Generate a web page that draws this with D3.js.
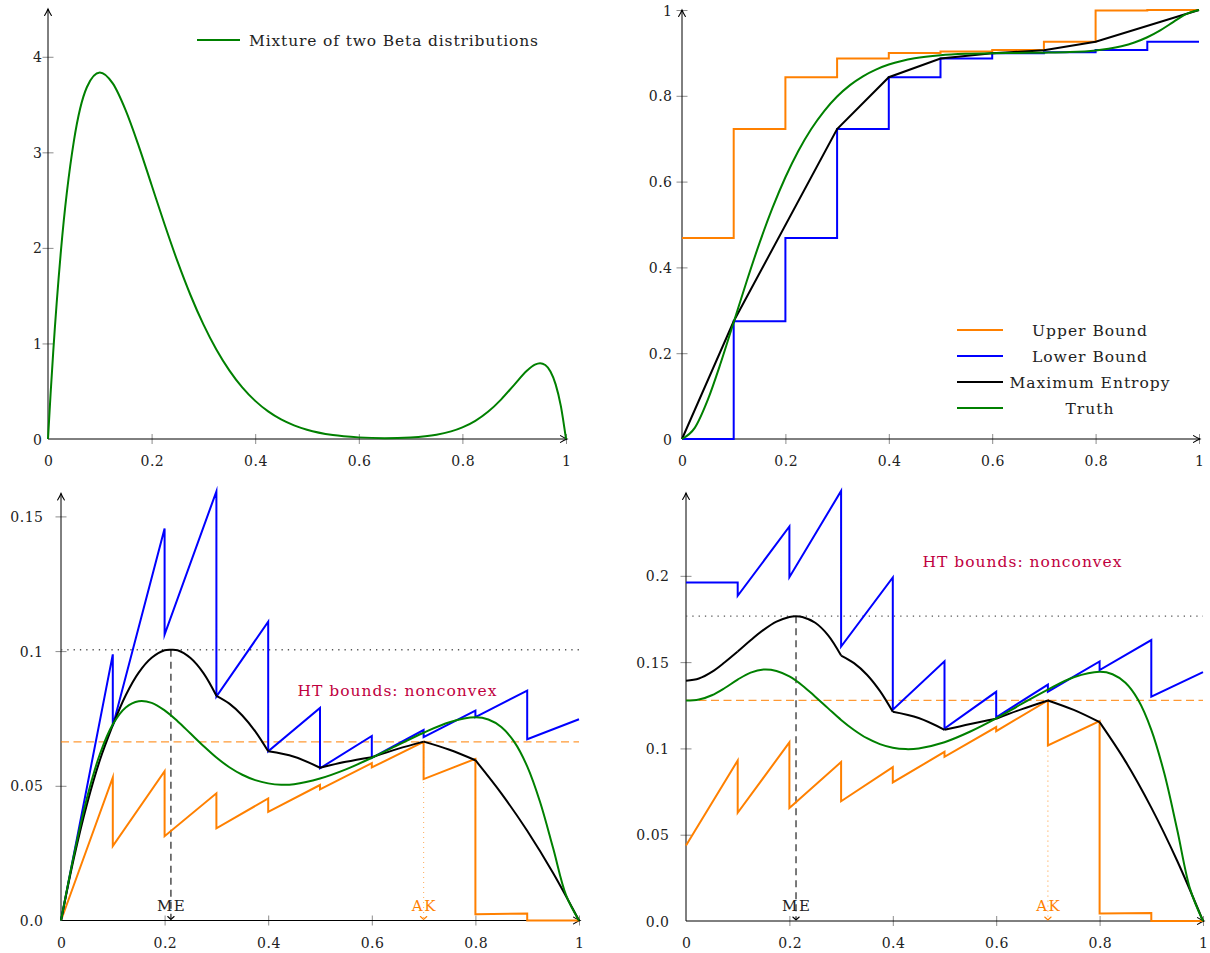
<!DOCTYPE html>
<html>
<head>
<meta charset="utf-8">
<script src="https://cdn.jsdelivr.net/npm/d3@7"></script>
<style>
  body { margin: 0; background: #ffffff; }
  svg { display: block; }
</style>
</head>
<body>
<div id="chart"></div>
<script>
// ---- data ----
const xTicks = [0, 0.2, 0.4, 0.6, 0.8, 1];
const xTickLabels = ["0", "0.2", "0.4", "0.6", "0.8", "1"];
const pdfTicks = [0, 1, 2, 3, 4];
const pdfTickLabels = ["0", "1", "2", "3", "4"];
const cdfTicks = [0, 0.2, 0.4, 0.6, 0.8, 1];
const cdfTickLabels = ["0", "0.2", "0.4", "0.6", "0.8", "1"];
const revOneTicks = [0, 0.05, 0.1, 0.15];
const revOneTickLabels = ["0.0", "0.05", "0.1", "0.15"];
const revTwoTicks = [0, 0.05, 0.1, 0.15, 0.2];
const revTwoTickLabels = ["0.0", "0.05", "0.1", "0.15", "0.2"];

// top left: density of the mixture
const pdfX = [0, 0.005, 0.01, 0.025, 0.05, 0.075, 0.1, 0.125, 0.15, 0.175, 0.2, 0.225, 0.25, 0.275, 0.3, 0.325, 0.35, 0.375, 0.4, 0.425,
  0.45, 0.475, 0.5, 0.55, 0.6, 0.65, 0.7, 0.75, 0.8, 0.825, 0.85, 0.875, 0.9, 0.925, 0.94, 0.95, 0.96, 0.97, 0.98, 0.99, 1];
const pdfY = [0, 0.473, 0.904, 1.971, 3.119, 3.681, 3.835, 3.721, 3.439, 3.068, 2.658, 2.247, 1.858, 1.507, 1.199, 0.936, 0.718, 0.540, 0.399, 0.289,
  0.205, 0.143, 0.097, 0.041, 0.017, 0.009, 0.016, 0.044, 0.121, 0.190, 0.287, 0.415, 0.567, 0.716, 0.778, 0.793, 0.774, 0.706, 0.572, 0.347, 0];

// top right: CDF bounds on ten bins
const binEdges = [0, 0.1, 0.2, 0.3, 0.4, 0.5, 0.6, 0.7, 0.8, 0.9, 1];
const cdfUpper = [0.4685, 0.7226, 0.8433, 0.8870, 0.8998, 0.9030, 0.9065, 0.9260, 0.9990, 1.0];
const cdfLower = [0, 0.2745, 0.4685, 0.7226, 0.8433, 0.8870, 0.8990, 0.9015, 0.9065, 0.9260];
const meKnots = [0, 0.1, 0.3, 0.4, 0.5, 0.6, 0.7, 0.8, 1];
const meCdf = [0, 0.2745, 0.7226, 0.8433, 0.8870, 0.8990, 0.9060, 0.9260, 1];

// smooth truth curves on a shared grid
const gridX = [0, 0.025, 0.05, 0.075, 0.1, 0.125, 0.15, 0.175, 0.2, 0.225, 0.25, 0.275, 0.3, 0.325, 0.35, 0.375, 0.4, 0.425, 0.45, 0.5,
  0.55, 0.6, 0.65, 0.7, 0.75, 0.8, 0.825, 0.85, 0.875, 0.9, 0.925, 0.95, 0.975, 1];
const truthCdf = [0, 0.0266, 0.0917, 0.1777, 0.2723, 0.3672, 0.4571, 0.5385, 0.6101, 0.6713, 0.7226, 0.7645, 0.7983, 0.8249, 0.8455, 0.8611, 0.8728, 0.8813, 0.8875, 0.8947,
  0.8980, 0.8994, 0.8999, 0.9005, 0.9019, 0.9058, 0.9096, 0.9155, 0.9242, 0.9365, 0.9526, 0.9717, 0.9904, 1];
const truthRevOne = [0, 0.0243, 0.0454, 0.0617, 0.0728, 0.0791, 0.0814, 0.0808, 0.0780, 0.0740, 0.0694, 0.0648, 0.0605, 0.0569, 0.0541, 0.0521, 0.0509, 0.0504, 0.0506, 0.0527,
  0.0561, 0.0604, 0.0651, 0.0697, 0.0736, 0.0754, 0.0746, 0.0718, 0.0663, 0.0572, 0.0439, 0.0269, 0.0094, 0];
const truthRevTwo = [0.1277, 0.1283, 0.1308, 0.1350, 0.1399, 0.1439, 0.1457, 0.1449, 0.1417, 0.1365, 0.1300, 0.1232, 0.1165, 0.1107, 0.1059, 0.1025, 0.1004, 0.0996, 0.1000, 0.1036,
  0.1098, 0.1174, 0.1259, 0.1341, 0.1412, 0.1444, 0.1430, 0.1380, 0.1279, 0.1108, 0.0857, 0.0530, 0.0186, 0];

// maximum entropy revenue curves
const meRevX = [0, 0.025, 0.05, 0.075, 0.1, 0.125, 0.15, 0.175, 0.2, 0.2125, 0.225, 0.25, 0.275, 0.3, 0.325, 0.35, 0.375, 0.4, 0.45, 0.5,
  0.55, 0.6, 0.65, 0.7, 0.75, 0.8, 0.85, 0.9, 0.95, 1];
const meRevOne = [0, 0.0233, 0.0431, 0.0595, 0.0725, 0.0836, 0.0920, 0.0975, 0.1003, 0.1005, 0.1003, 0.0974, 0.0918, 0.0834, 0.0805, 0.0761, 0.0702, 0.0628, 0.0608, 0.0567,
  0.0589, 0.0606, 0.0637, 0.0664, 0.0634, 0.0595, 0.0472, 0.0333, 0.0176, 0];
const meRevTwo = [0.1392, 0.1405, 0.1443, 0.1499, 0.1561, 0.1627, 0.1687, 0.1735, 0.1762, 0.1766, 0.1762, 0.1728, 0.1655, 0.1538, 0.1494, 0.1427, 0.1333, 0.1212, 0.1176, 0.1108,
  0.1142, 0.1172, 0.1228, 0.1278, 0.1223, 0.1152, 0.0925, 0.0657, 0.0349, 0];

// bound revenues per bin: value at the bin's left and right edge
const revOneBlueStart = [0, 0.0722, 0.1061, 0.0831, 0.0628, 0.0565, 0.0604, 0.0681, 0.0755, 0.0673];
const revOneBlueEnd = [0.0988, 0.1455, 0.1593, 0.1109, 0.0789, 0.0685, 0.0707, 0.0779, 0.0853, 0.0747];
const revOneOrangeStart = [0, 0.0276, 0.0313, 0.0342, 0.0403, 0.0487, 0.0568, 0.0525, 0.0023, 0];
const revOneOrangeEnd = [0.0531, 0.0554, 0.0472, 0.0453, 0.0503, 0.0584, 0.0663, 0.0600, 0.0026, 0];
const revTwoBlueStart = [0.1961, 0.1884, 0.1992, 0.1590, 0.1224, 0.1115, 0.1180, 0.1329, 0.1454, 0.1300];
const revTwoBlueEnd = [0.1961, 0.2286, 0.2492, 0.1991, 0.1505, 0.1328, 0.1370, 0.1504, 0.1628, 0.1442];
const revTwoOrangeStart = [0.0438, 0.0627, 0.0655, 0.0694, 0.0803, 0.0951, 0.1100, 0.1017, 0.0043, 0];
const revTwoOrangeEnd = [0.0930, 0.1035, 0.0921, 0.0892, 0.0980, 0.1124, 0.1278, 0.1159, 0.0047, 0];

// markers: ME optimum and AK price
const meArgmax = [0.2122, 0.2128];
const meMax = [0.1005, 0.1766];
const akPrice = [0.7, 0.7];
const akRev = [0.0663, 0.1278];

const legendCdf = ["Upper Bound", "Lower Bound", "Maximum Entropy", "Truth"];

// ---- style ----
const FONT = "'DejaVu Serif', 'Liberation Serif', serif";
const col = { upper: "#ff8000", lower: "#0000ff", me: "#000000", truth: "#008000", note: "#bf0040", tick: "#8c8c8c" };
const LW = 2;

const svg = d3.select("#chart").append("svg")
    .attr("width", 1210).attr("height", 953)
    .attr("font-family", FONT);

const defs = svg.append("defs");
function addMarker(id, color, d) {
    defs.append("marker")
        .attr("id", id)
        .attr("viewBox", "-10 -6 12 12")
        .attr("refX", 0).attr("refY", 0)
        .attr("markerWidth", 12).attr("markerHeight", 12)
        .attr("markerUnits", "userSpaceOnUse")
        .attr("orient", "auto")
        .append("path")
        .attr("d", d)
        .attr("fill", "none")
        .attr("stroke", color)
        .attr("stroke-width", 1.1)
        .attr("stroke-linecap", "round");
}
addMarker("axArrow", "#000", "M-6.5,-3.4 Q-2.4,-0.9 0,0 Q-2.4,0.9 -6.5,3.4");
addMarker("meArrow", "#000", "M-3,-3.2 Q-1,-0.9 0,0 Q-1,0.9 -3,3.2");
addMarker("akArrow", col.upper, "M-3,-3.2 Q-1,-0.9 0,0 Q-1,0.9 -3,3.2");

// panels: scales only
const P = {
    pdf: { x: d3.scaleLinear([0, 1], [48, 566]), y: d3.scaleLinear([0, 4.5], [439, 9]) },
    cdf: { x: d3.scaleLinear([0, 1], [682, 1199]), y: d3.scaleLinear([0, 1], [439, 10]) },
    one: { x: d3.scaleLinear([0, 1], [61, 579]), y: d3.scaleLinear([0, 0.1585], [920.5, 493.5]) },
    two: { x: d3.scaleLinear([0, 1], [686, 1203]), y: d3.scaleLinear([0, 0.248], [921, 493]) }
};

function drawAxes(p, yTicks, yLabels, yGap) {
    const g = svg.append("g");
    const x = p.x, y = p.y, y0 = y(0), x0 = x(0);

    const gx = g.append("g")
        .attr("transform", `translate(0,${y0})`)
        .call(d3.axisBottom(x).tickValues(xTicks).tickFormat((d, i) => xTickLabels[i]).tickSize(0));
    gx.attr("font-family", FONT).attr("font-size", 14);
    gx.select(".domain").remove();
    gx.selectAll(".tick line").attr("y1", -5).attr("y2", 5).attr("stroke", col.tick);
    gx.selectAll(".tick").filter(d => d === 0).select("line").remove();
    gx.selectAll(".tick text").attr("y", 27).attr("dy", null).attr("fill", "#222")
        .attr("letter-spacing", 0.5).attr("dx", 0.25);

    const gy = g.append("g")
        .attr("transform", `translate(${x0},0)`)
        .call(d3.axisLeft(y).tickValues(yTicks).tickFormat((d, i) => yLabels[i]).tickSize(0));
    gy.attr("font-family", FONT).attr("font-size", 14);
    gy.select(".domain").remove();
    gy.selectAll(".tick line").attr("x1", -5.5).attr("x2", 5.5).attr("stroke", col.tick);
    gy.selectAll(".tick").filter(d => d === 0).select("line").remove();
    gy.selectAll(".tick text").attr("x", -yGap + 0.5).attr("dy", "0.36em").attr("fill", "#222")
        .attr("letter-spacing", 0.5);

    g.append("line")
        .attr("x1", x0).attr("x2", x(1) + 1)
        .attr("y1", y0).attr("y2", y0)
        .attr("stroke", "#000").attr("stroke-width", 1)
        .attr("marker-end", "url(#axArrow)");
    g.append("line")
        .attr("x1", x0).attr("x2", x0)
        .attr("y1", y0).attr("y2", y.range()[1])
        .attr("stroke", "#000").attr("stroke-width", 1)
        .attr("marker-end", "url(#axArrow)");
}

function pathOf(p, pts, curve, color) {
    const gen = d3.line().x(d => p.x(d[0])).y(d => p.y(d[1])).curve(curve || d3.curveLinear);
    return svg.append("path")
        .attr("d", gen(pts))
        .attr("fill", "none")
        .attr("stroke", color)
        .attr("stroke-width", LW)
        .attr("stroke-linejoin", "miter")
        .attr("stroke-miterlimit", 6);
}

function label(x, y, txt, size, color, anchor, spacing) {
    const t = svg.append("text").attr("x", x).attr("y", y)
        .attr("font-size", size).attr("fill", color)
        .attr("text-anchor", anchor || "start")
        .attr("letter-spacing", spacing || 0)
        .text(txt);
    // keep centred text centred despite the trailing letter spacing
    if (anchor === "middle" && spacing) t.attr("dx", spacing / 2);
    return t;
}

const zip = (xs, ys) => xs.map((v, i) => [v, ys[i]]);
const smooth = d3.curveCatmullRom.alpha(0.5);

// ---------- panel 1: density ----------
drawAxes(P.pdf, pdfTicks, pdfTickLabels, 6);
pathOf(P.pdf, zip(pdfX, pdfY), d3.curveMonotoneX, col.truth);

svg.append("line").attr("x1", 197).attr("x2", 240).attr("y1", 40).attr("y2", 40)
    .attr("stroke", col.truth).attr("stroke-width", LW);
label(249, 45.5, "Mixture of two Beta distributions", 15.5, "#222", "start", 0.85);

// ---------- panel 2: CDF ----------
drawAxes(P.cdf, cdfTicks, cdfTickLabels, 10);
function stepPts(vals) {
    return binEdges.slice(0, -1).map((e, i) => [e, vals[i]]).concat([[1, vals[vals.length - 1]]]);
}
pathOf(P.cdf, stepPts(cdfUpper), d3.curveStepAfter, col.upper);
pathOf(P.cdf, stepPts(cdfLower), d3.curveStepAfter, col.lower);
pathOf(P.cdf, zip(meKnots, meCdf), d3.curveLinear, col.me);
pathOf(P.cdf, zip(gridX, truthCdf), d3.curveMonotoneX, col.truth);

const legendColors = [col.upper, col.lower, col.me, col.truth];
legendCdf.forEach((name, i) => {
    const ly = 330 + i * 26;
    svg.append("line").attr("x1", 957).attr("x2", 1003).attr("y1", ly).attr("y2", ly)
        .attr("stroke", legendColors[i]).attr("stroke-width", LW);
    label(1089.5, ly + 5.5, name, 15.5, "#222", "middle", 1);
});

// ---------- panels 3 and 4: revenue ----------
function sawPts(starts, ends) {
    return binEdges.slice(0, -1).flatMap((e, i) => [[e, starts[i]], [binEdges[i + 1], ends[i]]]);
}

function revenuePanel(p, k, yTicks, yLabels, yGap, blueS, blueE, orS, orE, meVals, truthVals) {
    drawAxes(p, yTicks, yLabels, yGap);
    const x = p.x, y = p.y;

    // reference lines
    svg.append("line")
        .attr("x1", x(0)).attr("x2", x(1)).attr("y1", y(meMax[k])).attr("y2", y(meMax[k]))
        .attr("stroke", "#555").attr("stroke-width", 1.3).attr("stroke-dasharray", "1.3,5");
    svg.append("line")
        .attr("x1", x(0)).attr("x2", x(1)).attr("y1", y(akRev[k])).attr("y2", y(akRev[k]))
        .attr("stroke", col.upper).attr("stroke-opacity", 0.8).attr("stroke-width", 1.3).attr("stroke-dasharray", "8,4.5");
    svg.append("line")
        .attr("x1", x(meArgmax[k])).attr("x2", x(meArgmax[k])).attr("y1", y(meMax[k])).attr("y2", y(0) - 1)
        .attr("stroke", "#222").attr("stroke-width", 1.2).attr("stroke-dasharray", "7,5")
        .attr("marker-end", "url(#meArrow)");
    svg.append("line")
        .attr("x1", x(akPrice[k])).attr("x2", x(akPrice[k])).attr("y1", y(akRev[k])).attr("y2", y(0) - 1)
        .attr("stroke", col.upper).attr("stroke-opacity", 0.6).attr("stroke-width", 1.1).attr("stroke-dasharray", "1.2,3.8")
        .attr("marker-end", "url(#akArrow)");

    // curves
    pathOf(p, sawPts(orS, orE), d3.curveLinear, col.upper);
    pathOf(p, sawPts(blueS, blueE), d3.curveLinear, col.lower);
    for (let j = 0; j < meKnots.length - 1; j++) {
        const a = meKnots[j], b = meKnots[j + 1];
        const seg = zip(meRevX, meVals).filter(d => d[0] >= a - 1e-9 && d[0] <= b + 1e-9);
        pathOf(p, seg, smooth, col.me);
    }
    pathOf(p, zip(gridX, truthVals), smooth, col.truth);

    // labels
    label(x(meArgmax[k]), y(0) - 10, "ME", 15, "#222", "middle", 1.5);
    label(x(akPrice[k]), y(0) - 10, "AK", 15, col.upper, "middle", 1.5);
}

revenuePanel(P.one, 0, revOneTicks, revOneTickLabels, 18,
    revOneBlueStart, revOneBlueEnd, revOneOrangeStart, revOneOrangeEnd, meRevOne, truthRevOne);
label(P.one.x(0.6486), P.one.y(0.0834), "HT bounds: nonconvex", 15.5, col.note, "middle", 1);

revenuePanel(P.two, 1, revTwoTicks, revTwoTickLabels, 17,
    revTwoBlueStart, revTwoBlueEnd, revTwoOrangeStart, revTwoOrangeEnd, meRevTwo, truthRevTwo);
label(P.two.x(0.65), P.two.y(0.2052), "HT bounds: nonconvex", 15.5, col.note, "middle", 1);
</script>
</body>
</html>
